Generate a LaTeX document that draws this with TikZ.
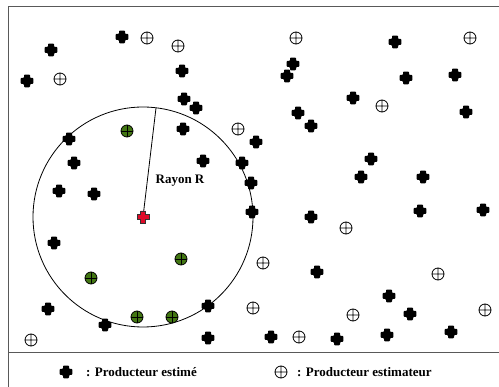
\documentclass[tikz,border=0pt]{standalone}
\usepackage{fontspec}
\setmainfont{Liberation Serif}
\definecolor{gfill}{RGB}{66,118,18}
\definecolor{rfill}{RGB}{222,10,40}
\tikzset{
  x=1pt, y=-1pt,
  frameline/.style={line width=1pt, draw=black!65},
  lbl/.style={font=\bfseries\fontsize{13pt}{15pt}\selectfont, inner sep=0pt},
  estime/.pic={\fill[rounded corners=0.8pt] (-3,-6.3) -- (3,-6.3) -- (3,-3) -- (6.3,-3) -- (6.3,3) -- (3,3) -- (3,6.3) -- (-3,6.3) -- (-3,3) -- (-6.3,3) -- (-6.3,-3) -- (-3,-3) -- cycle;},
  centre/.pic={\filldraw[fill=rfill, draw=black!80, line width=0.6pt] (-2.6,-6) -- (2.6,-6) -- (2.6,-2.6) -- (6,-2.6) -- (6,2.6) -- (2.6,2.6) -- (2.6,6) -- (-2.6,6) -- (-2.6,2.6) -- (-6,2.6) -- (-6,-2.6) -- (-2.6,-2.6) -- cycle;},
  estimateur/.pic={\draw[line width=0.8pt] (0,0) circle[radius=6pt] (-6,0) -- (6,0) (0,-6) -- (0,6);},
  vert/.pic={\filldraw[fill=gfill, draw=black, line width=0.8pt] (0,0) circle[radius=6pt]; \draw[line width=0.8pt] (-6,0) -- (6,0) (0,-6) -- (0,6);}
}
\begin{document}
\begin{tikzpicture}
\useasboundingbox (0,0) rectangle (499,387);
% frame
\coordinate (tl) at (8,7);
\coordinate (tr) at (499,7);
\coordinate (bl) at (8,387);
\coordinate (ml) at (8,353);
\coordinate (mr) at (499,353);
\draw[frameline] (bl) -- (tl) -- (tr);
\draw[frameline] (ml) -- (mr);
% circle of radius R
\coordinate (C) at (143,217);
\coordinate (Rtop) at (156,108);
\draw[line width=0.8pt] (C) circle[radius=110pt];
\draw[line width=0.8pt] (C) -- (Rtop);
\node[lbl] (rayon) at (180,181) {Rayon R};
% black crosses
\foreach \p in {(122,37),(51,50),(27,81),(182,71),(184,99),(196,108),(183,129),(69,139),(74,163),(203,161),(242,163),(251,183),(252,212),(256,142),
(395,42),(293,64),(287,76),(406,78),(455,75),(353,98),(298,113),(466,112),(311,126),(371,159),(361,177),(423,177),
(59,191),(94,194),(54,243),(48,309),(208,306),(105,325),(208,338),
(311,217),(420,211),(483,210),(317,272),(389,296),(410,314),(271,337),(337,339),(387,335),(451,332)}
  \pic at \p {estime};
% estimators
\foreach \p in {(147,38),(178,46),(60,79),(238,129),(296,38),(470,38),(382,106),(346,228),(263,263),(438,274),(253,308),(353,315),(485,310),(299,337),(31,340)}
  \pic at \p {estimateur};
% estimators inside the circle
\foreach \p in {(127,131),(181,259),(91,278),(137,317),(172,317)}
  \pic at \p {vert};
% estimated producer
\pic at (C) {centre};
% legend
\pic at (66,372) {estime};
\node[lbl, anchor=west] (l1) at (86,372) {: Producteur estimé};
\pic at (281,372) {estimateur};
\node[lbl, anchor=west] (l2) at (297,372) {: Producteur estimateur};
\end{tikzpicture}
\end{document}
